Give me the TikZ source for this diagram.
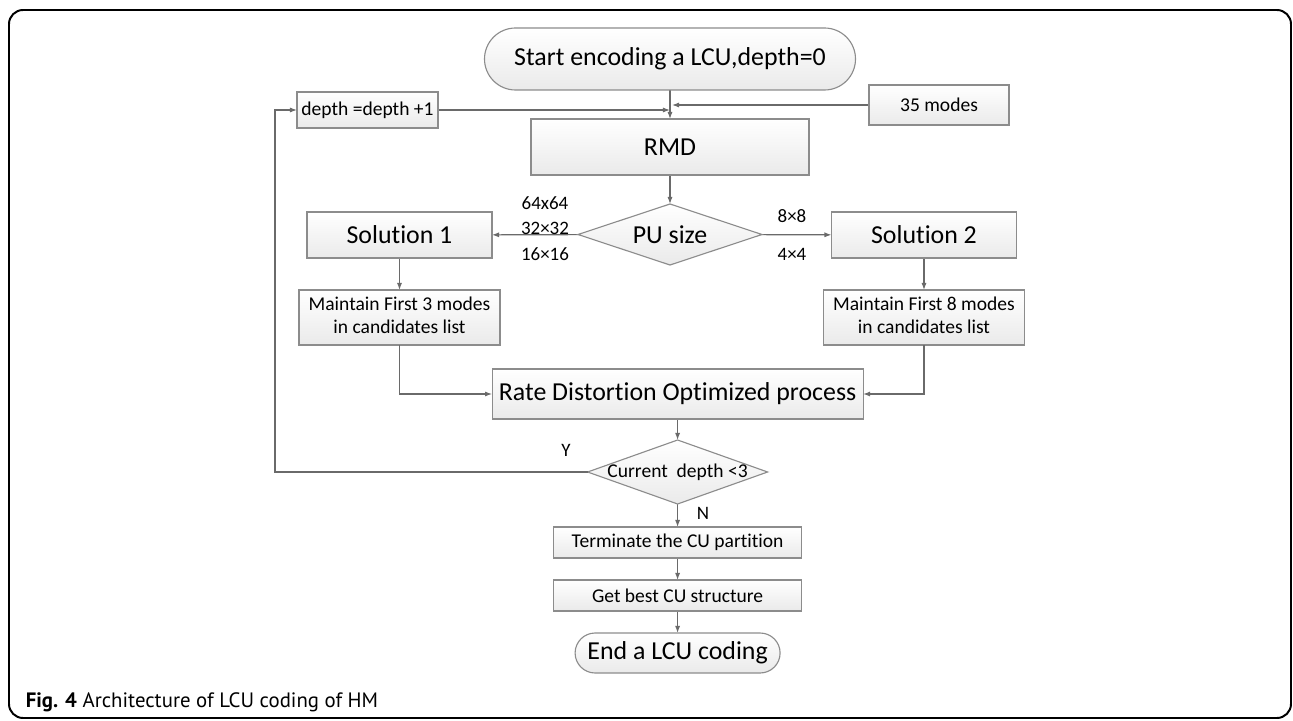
\documentclass[tikz,border=0pt]{standalone}
\usepackage{fontspec}
\setmainfont[Ligatures=NoCommon]{Carlito}
\newfontfamily\captionfont{PT Sans}
\usepackage{tikz-network}
\usetikzlibrary{shapes.geometric,shapes.misc,arrows.meta}

\definecolor{boxline}{HTML}{8C8C8C}
\definecolor{boxshade}{HTML}{EAEAEA}
\definecolor{flowline}{HTML}{6A6A6A}
\tikzset{flow/.style={draw=flowline,line width=0.8pt,-{Latex[length=5pt,width=3.6pt]}}}
\newcommand{\bigtxt}{\fontsize{18.4}{21}\selectfont}
\newcommand{\smalltxt}{\fontsize{13.9}{16.5}\selectfont}
\newcommand{\sizetxt}{\fontsize{13.5}{16}\selectfont}

\begin{document}
\begin{tikzpicture}
  \SetVertexStyle[Shape=rectangle,LineWidth=0.8pt,LineColor=boxline,FillColor=white,InnerSep=0pt]
  \SetEdgeStyle[Color=flowline,LineWidth=0.8pt,Arrow={-{Latex[length=5pt,width=3.6pt]}}]
  \useasboundingbox (0,0) rectangle (32.325,18);
  \draw[line width=1.4pt,rounded corners=10pt] (0.225,0.05) rectangle (32.275,17.75);

  \Vertex[x=16.75,y=16.525,shape=rounded rectangle,label={Start encoding a LCU,depth=0},fontsize=\bigtxt,style={minimum width=9.275cm,minimum height=1.55cm,top color=white,bottom color=boxshade}]{start}
  \Vertex[x=9.1875,y=15.25,label={depth =depth +1},fontsize=\smalltxt,style={minimum width=3.525cm,minimum height=0.9cm,top color=white,bottom color=boxshade}]{depth}
  \Vertex[x=23.475,y=15.375,label={35 modes},fontsize=\smalltxt,style={minimum width=3.5cm,minimum height=1cm,top color=white,bottom color=boxshade}]{modes}
  \Vertex[x=16.75,y=14.325,label=RMD,fontsize=\bigtxt,style={minimum width=6.95cm,minimum height=1.4cm,top color=white,bottom color=boxshade}]{rmd}
  \Vertex[x=16.75,y=12.1375,shape=diamond,label={PU size},fontsize=\bigtxt,style={minimum width=4.6cm,minimum height=1.525cm,top color=white,bottom color=boxshade}]{pu}
  \Vertex[x=9.9875,y=12.125,label={Solution 1},fontsize=\bigtxt,style={minimum width=4.625cm,minimum height=1.15cm,top color=white,bottom color=boxshade}]{sol1}
  \Vertex[x=23.1,y=12.125,label={Solution 2},fontsize=\bigtxt,style={minimum width=4.625cm,minimum height=1.15cm,top color=white,bottom color=boxshade}]{sol2}
  \Vertex[x=9.9875,y=10.0625,label={\begin{tabular}{@{}c@{}}Maintain First 3 modes\\in candidates list\end{tabular}},fontsize=\smalltxt,style={minimum width=5.025cm,minimum height=1.375cm,top color=white,bottom color=boxshade}]{keep1}
  \Vertex[x=23.1,y=10.0625,label={\begin{tabular}{@{}c@{}}Maintain First 8 modes\\in candidates list\end{tabular}},fontsize=\smalltxt,style={minimum width=5.025cm,minimum height=1.375cm,top color=white,bottom color=boxshade}]{keep2}
  \Vertex[x=16.94,y=8.15,label={Rate Distortion Optimized process},fontsize=\bigtxt,style={minimum width=9.275cm,minimum height=1.25cm,top color=white,bottom color=boxshade}]{rdo}
  \Vertex[x=16.94,y=6.2,shape=diamond,label={Current\ \ depth <3},fontsize=\smalltxt,style={minimum width=4.5cm,minimum height=1.6cm,top color=white,bottom color=boxshade}]{cur}
  \Vertex[x=16.94,y=4.4375,label={Terminate the CU partition},fontsize=\smalltxt,style={minimum width=6.2cm,minimum height=0.775cm,top color=white,bottom color=boxshade}]{term}
  \Vertex[x=16.94,y=3.1125,label={Get best CU structure},fontsize=\smalltxt,style={minimum width=6.2cm,minimum height=0.775cm,top color=white,bottom color=boxshade}]{best}
  \Vertex[x=16.94,y=1.675,shape=rounded rectangle,label={End a LCU coding},fontsize=\bigtxt,style={minimum width=5.125cm,minimum height=1cm,top color=white,bottom color=boxshade}]{end}

  \coordinate (j1) at (16.75,15.25);
  \coordinate (j2) at (16.8,15.375);
  \coordinate (back) at (6.875,15.25);

  \node[font=\sizetxt] (s64) at (13.625,12.925) {64x64};
  \node[font=\sizetxt] (s32) at (13.625,12.3) {32×32};
  \node[font=\sizetxt] (s16) at (13.625,11.65) {16×16};
  \node[font=\sizetxt] (s8) at (19.8,12.6) {8×8};
  \node[font=\sizetxt] (s4) at (19.8,11.65) {4×4};
  \node[font=\sizetxt] (yes) at (14.15,6.75) {Y};
  \node[font=\sizetxt] (no) at (17.575,5.175) {N};

  \Edge[Direct](start)(rmd)
  \Edge[Direct](depth)(j1)
  \Edge[Direct](modes)(j2)
  \Edge[Direct](rmd)(pu)
  \Edge[Direct](pu)(sol1)
  \Edge[Direct](pu)(sol2)
  \Edge[Direct](sol1)(keep1)
  \Edge[Direct](sol2)(keep2)
  \draw[flow] (keep1) |- (rdo);
  \draw[flow] (keep2) |- (rdo);
  \Edge[Direct](rdo)(cur)
  \draw[flow] (cur) -| (back) -- (depth);
  \Edge[Direct](cur)(term)
  \Edge[Direct](term)(best)
  \Edge[Direct](best)(end)

  \node[anchor=west,inner sep=0pt,font=\captionfont\fontsize{14.8}{17}\selectfont] (caption) at (0.6375,0.45) {\textbf{Fig. 4} Architecture of LCU coding of HM};
\end{tikzpicture}
\end{document}
